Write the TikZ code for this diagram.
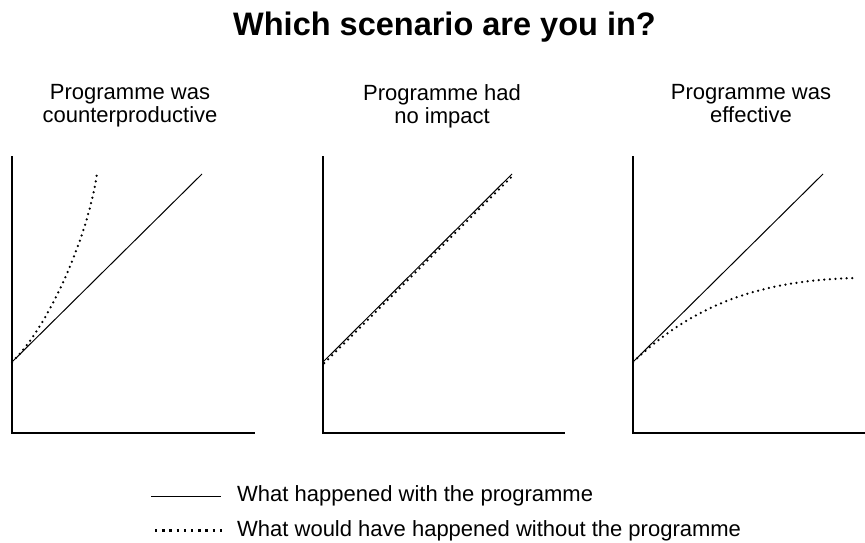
\documentclass[tikz,border=0pt]{standalone}
\usepackage{fontspec}
\setmainfont{Liberation Sans}
\begin{document}
\begin{tikzpicture}[x=1pt,y=-1pt,
  axis/.style={line width=2.4pt, line join=miter},
  happened/.style={line width=1pt},
  counterfactual/.style={line width=2.5pt, dash pattern=on 0pt off 5.6pt, line cap=round},
  legenddots/.style={line width=2.3pt, dash pattern=on 2.3pt off 4.9pt},
  paneltitle/.style={font=\fontsize{22}{23}\selectfont, align=center, anchor=north, inner sep=0pt},
  legendtext/.style={font=\fontsize{22}{25}\selectfont, anchor=base west, inner sep=0pt}]
\useasboundingbox (0,0) rectangle (865,543);

% title
\node[font=\fontsize{32.5}{36}\selectfont\bfseries, anchor=base, inner sep=0pt] (title) at (444.5,36) {Which scenario are you in?};

% panel titles
\node[paneltitle] (t1) at (130,84) {Programme was\\counterproductive};
\node[paneltitle] (t2) at (442,84) {Programme had\\no impact};
\node[paneltitle] (t3) at (751,84) {Programme was\\effective};

% panel 1
\coordinate (a1top) at (12,156);
\coordinate (a1o) at (12,433);
\coordinate (a1end) at (255,433);
\draw[axis] (a1top) -- (a1o) -- (a1end);
\coordinate (s1) at (12,362);
\coordinate (s1e) at (202,174);
\coordinate (d1e) at (97,174);
\draw[happened] (s1) -- (s1e);
\draw[counterfactual] (s1) .. controls (45,331) and (86,245) .. (d1e);

% panel 2
\coordinate (a2top) at (323,156);
\coordinate (a2o) at (323,433);
\coordinate (a2end) at (565,433);
\draw[axis] (a2top) -- (a2o) -- (a2end);
\coordinate (s2) at (323,362);
\coordinate (s2e) at (512,174);
\coordinate (d2) at (324.2,363.2);
\coordinate (d2e) at (513.2,175.2);
\draw[happened] (s2) -- (s2e);
\draw[counterfactual] (d2) -- (d2e);

% panel 3
\coordinate (a3top) at (633,156);
\coordinate (a3o) at (633,433);
\coordinate (a3end) at (865,433);
\draw[axis] (a3top) -- (a3o) -- (a3end);
\coordinate (s3) at (633,362);
\coordinate (s3e) at (823,174);
\coordinate (d3e) at (857,278);
\draw[happened] (s3) -- (s3e);
\draw[counterfactual] (s3) .. controls (680,318) and (740,280) .. (d3e);

% legend
\coordinate (l1a) at (151,496);
\coordinate (l1b) at (221,496);
\coordinate (l2a) at (155,530.5);
\coordinate (l2b) at (222,530.5);
\draw[happened] (l1a) -- (l1b);
\draw[legenddots] (l2a) -- (l2b);
\node[legendtext] (leg1) at (237,501.5) {What happened with the programme};
\node[legendtext] (leg2) at (237,536) {What would have happened without the programme};
\end{tikzpicture}
\end{document}
